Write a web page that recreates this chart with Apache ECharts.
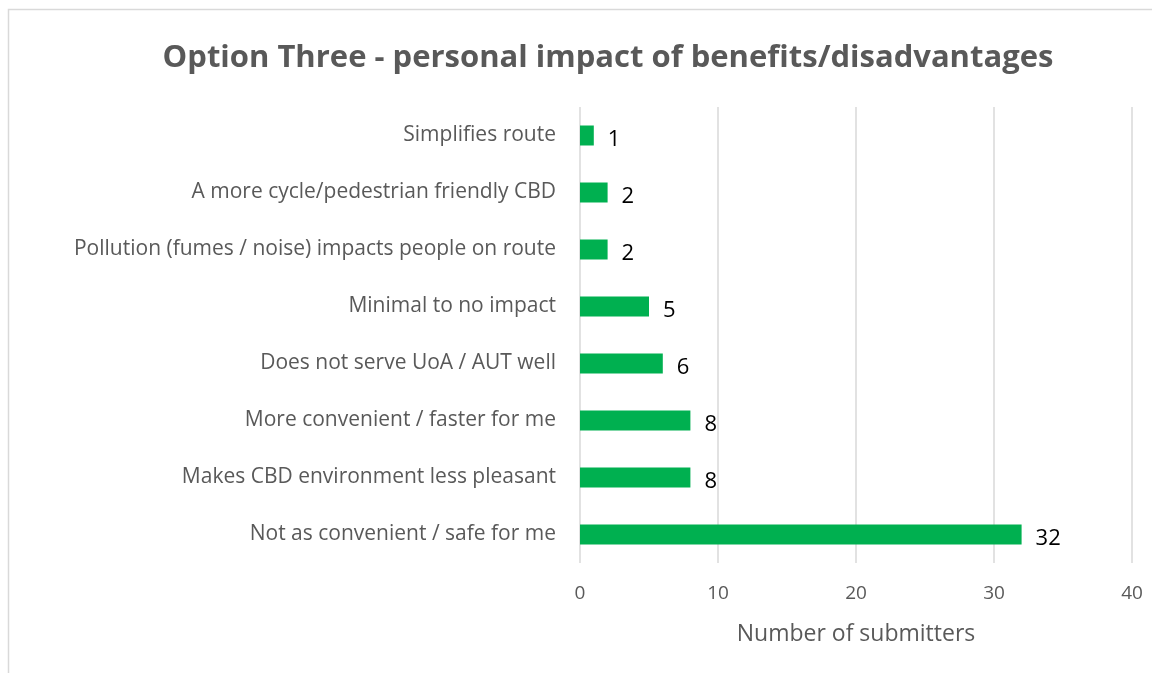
<!DOCTYPE html>
<html><head><meta charset="utf-8">
<script src="https://cdn.jsdelivr.net/npm/echarts@6/dist/echarts.min.js"></script>
<style>html,body{margin:0;padding:0;background:#fff}#c{width:1152px;height:673px}</style>
</head><body><div id="c"></div>
<script>
const titleText = 'Option Three - personal impact of benefits/disadvantages';
const categories = [
  'Simplifies route',
  'A more cycle/pedestrian friendly CBD',
  'Pollution (fumes / noise) impacts people on route',
  'Minimal to no impact',
  'Does not serve UoA / AUT well',
  'More convenient / faster for me',
  'Makes CBD environment less pleasant',
  'Not as convenient / safe for me'
];
const values = [1, 2, 2, 5, 6, 8, 8, 32];
const xTicks = [0, 10, 20, 30, 40];
const xAxisName = 'Number of submitters';

const FONT = 'Open Sans';
const chart = echarts.init(document.getElementById('c'), null, {renderer: 'canvas'});
chart.setOption({
  animation: false,
  backgroundColor: '#fff',
  textStyle: {fontFamily: FONT},
  title: {
    text: titleText, left: 603, top: 38, textAlign: 'center',
    textStyle: {fontFamily: FONT, fontSize: 31, fontWeight: 'bold', color: '#595959'}
  },
  graphic: [{
    type: 'rect', shape: {x: 8.5, y: 9.5, width: 1160, height: 680},
    style: {fill: 'none', stroke: '#d9d9d9', lineWidth: 1.5}, silent: true
  }],
  grid: {left: 580, right: 20, top: 107, bottom: 110},
  xAxis: {
    type: 'value', min: xTicks[0], max: xTicks[xTicks.length - 1], interval: 10,
    name: xAxisName, nameLocation: 'middle', nameGap: 60,
    nameTextStyle: {fontFamily: FONT, fontSize: 23, color: '#595959'},
    axisLine: {show: false}, axisTick: {show: false},
    axisLabel: {fontFamily: FONT, fontSize: 19, color: '#595959', margin: 21},
    splitLine: {show: true, lineStyle: {color: '#d9d9d9', width: 1.5}}
  },
  yAxis: {
    type: 'category', data: categories, inverse: true,
    axisLine: {show: false}, axisTick: {show: false},
    axisLabel: {fontFamily: FONT, fontSize: 21, color: '#595959', margin: 24, padding: [5, 0, 0, 0]}
  },
  series: [{
    type: 'bar', data: values, barWidth: 20,
    itemStyle: {color: '#00B050'},
    label: {show: true, position: 'right', distance: 14, offset: [0, 4],
      fontFamily: FONT, fontSize: 22, color: '#000'}
  }]
});
</script></body></html>
